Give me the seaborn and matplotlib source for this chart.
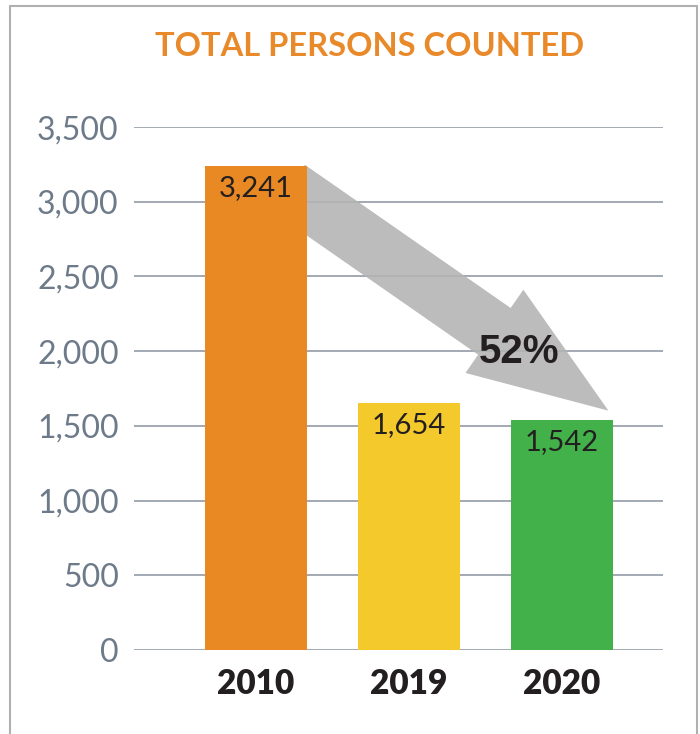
import matplotlib
matplotlib.use("Agg")
import matplotlib.pyplot as plt
import seaborn as sns
from matplotlib.lines import Line2D

# chart data
years = ["2010", "2019", "2020"]
counts = [3241, 1654, 1542]
bar_colors = ["#E88924", "#F4C92C", "#42B14A"]
y_ticks = [0, 500, 1000, 1500, 2000, 2500, 3000, 3500]
change_label = "52%"

sns.set_style("white")
plt.rcParams["font.family"] = ["Lato", "DejaVu Sans"]

fig = plt.figure(figsize=(7.0, 7.34), dpi=100)
ax = fig.add_axes([0.1914, 0.1144, 0.7557, 0.7125])

# grid lines under everything
ax.set_axisbelow(True)
ax.yaxis.grid(True, color="#9ba3ad", linewidth=1.3)
ax.xaxis.grid(False)

sns.barplot(x=years, y=counts, hue=years, palette=bar_colors, width=0.667,
            legend=False, ax=ax, saturation=1, zorder=2, linewidth=0)

ax.set_xlim(-0.797, 2.66)
ax.set_ylim(0, 3500)
ax.set_yticks(y_ticks)
ax.set_yticklabels([f"{t:,}" for t in y_ticks])
for s in ax.spines.values():
    s.set_visible(False)
ax.tick_params(axis="y", length=0, pad=11, labelsize=23, labelcolor="#6d7a89")
ax.tick_params(axis="x", length=0, pad=13, labelsize=24, labelcolor="#231f20")
for lab in ax.get_xticklabels():
    lab.set_fontweight("heavy")
ax.set_xlabel("")
ax.set_ylabel("")

# value labels inside bar tops
for i, v in enumerate(counts):
    ax.annotate(f"{v:,}", xy=(i, v), xytext=(0, -16), textcoords="offset points",
                ha="center", va="center", fontsize=21, color="#231f20", zorder=4)

# big gray arrow from 2010 bar top to 2020 bar top
half = 0.667 / 2
ax.annotate("", xy=(2 + half - 0.03, counts[2] + 60),
            xytext=(0 + half - 0.12, counts[0] - 150),
            arrowprops=dict(arrowstyle="simple,head_length=10.0,head_width=7.3,tail_width=4.1",
                            mutation_scale=10, shrinkA=0, shrinkB=0,
                            color="#b3b3b3", alpha=0.88, lw=0),
            zorder=1.5)
ax.text(1.72, 1995, change_label, ha="center", va="center", fontsize=29,
        fontweight="bold", color="#231f20", family=["Liberation Sans", "DejaVu Sans"], zorder=4)

# title
fig.text(370 / 700, 1 - 46 / 734, "TOTAL PERSONS COUNTED", ha="center", va="center",
         fontsize=23.5, fontweight="bold", color="#E8892A")

# outer frame (left, top, right)
fc = "#b0b0b0"
fig.add_artist(Line2D([10 / 700, 10 / 700], [0, 1 - 6 / 734], transform=fig.transFigure, color=fc, lw=1.5))
fig.add_artist(Line2D([10 / 700, 697 / 700], [1 - 6 / 734, 1 - 6 / 734], transform=fig.transFigure, color=fc, lw=1.5))
fig.add_artist(Line2D([697 / 700, 697 / 700], [0, 1 - 6 / 734], transform=fig.transFigure, color=fc, lw=1.5))

fig.savefig("out.png", dpi=100)
